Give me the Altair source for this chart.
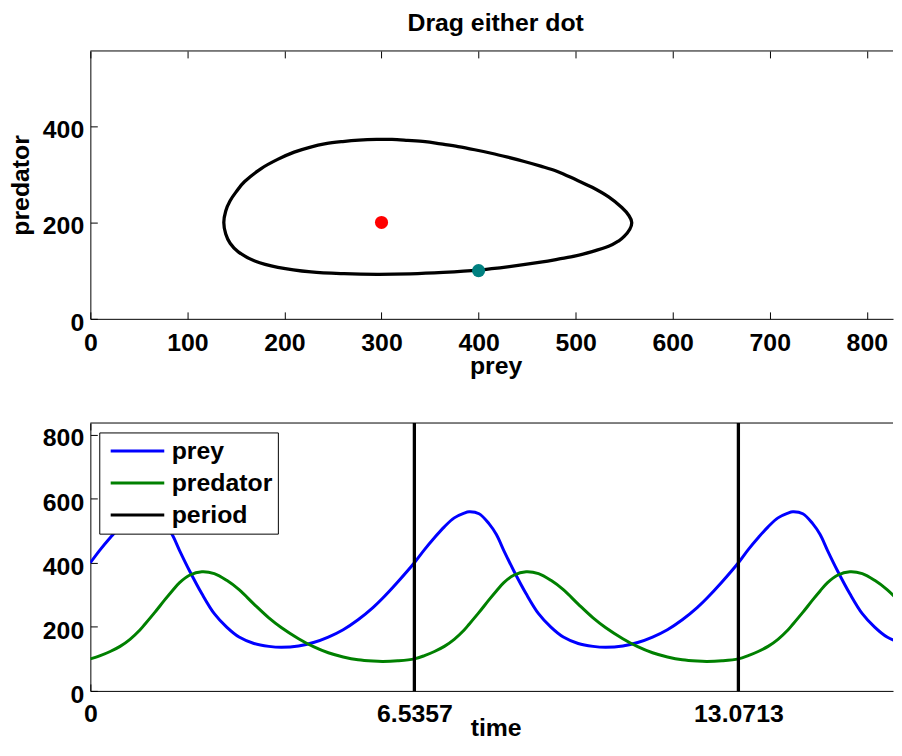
import altair as alt
import pandas as pd

FONT = "Liberation Sans"
W, H = 809, 270

# ---------------- data ----------------
# closed orbit in the phase plane (prey, predator), in path order
orbit_prey = [137.5, 139.5, 144.0, 150.0, 159.0, 176.0, 193.0, 210.0, 226.0, 242.6,
              260.0, 276.7, 295.0, 310.8, 327.0, 344.9, 361.0, 378.9, 396.0, 413.1,
              430.0, 447.1, 464.0, 481.2, 500.0, 517.0, 534.0, 547.6, 555.0, 557.8,
              555.8, 550.0, 544.2, 534.0, 517.0, 500.0, 482.0, 465.8, 431.7, 399.7,
              363.6, 329.5, 295.5, 261.4, 227.3, 193.2, 169.4, 152.4, 144.0, 139.5]
orbit_pred = [200.0, 224.0, 245.0, 263.0, 285.0, 312.0, 331.0, 346.0, 356.0, 363.5,
              368.0, 371.0, 372.5, 372.5, 370.5, 367.8, 363.0, 357.5, 351.0, 343.7,
              335.5, 326.6, 317.0, 306.0, 289.0, 273.0, 253.0, 231.0, 214.0, 200.0,
              186.0, 171.0, 161.5, 150.5, 139.5, 130.5, 124.0, 118.0, 108.5, 101.3,
              96.5, 93.5, 92.5, 93.8, 97.5, 107.0, 120.0, 139.0, 157.0, 176.0]

equilibrium_prey = [300]
equilibrium_pred = [200]
start_prey = [400]
start_pred = [100]

# time series (prey, predator) read along the three visible stretches
time = [0, 0.2, 0.4, 0.6, 0.8, 1.0, 1.1, 1.3, 1.5, 1.65,
        1.8, 2.0, 2.25, 2.5, 2.75, 3.0, 3.3, 3.6, 3.85, 4.2,
        4.5, 4.8, 5.1, 5.4, 5.7, 5.9, 6.2,
        6.5357, 6.74, 6.94, 7.14, 7.34, 7.54, 7.64, 7.84, 8.04, 8.19,
        8.34, 8.54, 8.79, 9.04, 9.29, 9.54, 9.84, 10.14, 10.39, 10.74,
        11.04, 11.34, 11.64, 11.94, 12.24, 12.44, 12.74,
        13.0713, 13.27, 13.47, 13.67, 13.87, 14.07, 14.17, 14.37, 14.57, 14.72,
        14.87, 15.07, 15.32, 15.57, 15.82, 16.07, 16.37]
prey = [400, 441, 478, 512, 540, 555, 559, 553, 522, 488,
        438, 375, 303, 241, 199, 168, 148, 139, 136, 140,
        151, 168, 191, 222, 260, 290, 340,
        400, 441, 478, 512, 540, 555, 559, 553, 522, 488,
        438, 375, 303, 241, 199, 168, 148, 139, 136, 140,
        151, 168, 191, 222, 260, 290, 340,
        400, 441, 478, 512, 540, 555, 559, 553, 522, 488,
        438, 375, 303, 241, 199, 168, 148]
predator = [100, 110, 123, 139, 161, 190, 208, 245, 284, 312,
            338, 361, 372, 366, 345, 316, 271, 228, 198, 163,
            138, 119, 106, 97, 93, 92, 94,
            100, 110, 123, 139, 161, 190, 208, 245, 284, 312,
            338, 361, 372, 366, 345, 316, 271, 228, 198, 163,
            138, 119, 106, 97, 93, 92, 94,
            100, 110, 123, 139, 161, 190, 208, 245, 284, 312,
            338, 361, 372, 366, 345, 316, 271]
period_times = [6.5357, 13.0713]

series_names = ["prey", "predator", "period"]
series_colors = ["#0000ff", "#008000", "#000000"]

prey_ticks = [0, 100, 200, 300, 400, 500, 600, 700, 800]
pred_ticks = [0, 200, 400]
time_ticks = [0, 6.5357, 13.0713]
count_ticks = [0, 200, 400, 600, 800]

prey_domain = [0, 827]
pred_domain = [0, 556]
time_domain = [0, 16.19]
count_domain = [0, 836]

# ---------------- tables ----------------
orbit_df = pd.DataFrame({"i": list(range(len(orbit_prey))), "prey": orbit_prey, "predator": orbit_pred})
eq_df = pd.DataFrame({"prey": equilibrium_prey, "predator": equilibrium_pred})
st_df = pd.DataFrame({"prey": start_prey, "predator": start_pred})
top_edge_df = pd.DataFrame({"predator": [pred_domain[1]]})
ts_df = pd.concat([
    pd.DataFrame({"t": time, "value": prey, "series": "prey"}),
    pd.DataFrame({"t": time, "value": predator, "series": "predator"}),
], ignore_index=True)
period_df = pd.DataFrame({"t": period_times, "series": ["period"] * len(period_times)})
count_edge_df = pd.DataFrame({"value": [count_domain[1]]})


def xgrid(length):
    # MATLAB-style inward ticks on both bottom and top edges
    return dict(grid=True, gridColor="black", gridOpacity=1, gridWidth=1,
                gridDash=[7, length - 14, 7, 4000])


ygrid = dict(grid=True, gridColor="black", gridOpacity=1, gridWidth=1, gridDash=[7, 4000])

# ---------------- top panel ----------------
xs = alt.Scale(domain=prey_domain, nice=False, zero=False)
ys = alt.Scale(domain=pred_domain, nice=False, zero=False)

x_bottom = alt.Axis(values=prey_ticks, title="prey", labelFlush=False, labelOverlap=False,
                    ticks=False, tickSize=0, labelPadding=11.5, titleBaseline="alphabetic",
                    titlePadding=18.5, titleX=W / 2 + 4, **xgrid(H))
y_left = alt.Axis(values=pred_ticks, title="predator", ticks=False, tickSize=0, labelPadding=6.7,
                  labelOffset=3.5, labelOverlap=False, labelFlush=False, titlePadding=9.3, **ygrid)

orbit = alt.Chart(orbit_df).mark_line(color="black", strokeWidth=3.3,
                                      interpolate="cardinal-closed", clip=True).encode(
    x=alt.X("prey:Q", scale=xs, axis=x_bottom),
    y=alt.Y("predator:Q", scale=ys, axis=y_left),
    order=alt.Order("i:Q"),
)
top_edge = alt.Chart(top_edge_df).mark_rule(color="black", strokeWidth=1).encode(
    y=alt.Y("predator:Q", scale=ys, axis=y_left),
)
eq = alt.Chart(eq_df).mark_circle(color="#ff0000", size=175, opacity=1).encode(
    x=alt.X("prey:Q", scale=xs, axis=x_bottom),
    y=alt.Y("predator:Q", scale=ys, axis=y_left),
)
st = alt.Chart(st_df).mark_circle(color="#008080", size=175, opacity=1).encode(
    x=alt.X("prey:Q", scale=xs, axis=x_bottom),
    y=alt.Y("predator:Q", scale=ys, axis=y_left),
)
top = alt.layer(orbit, top_edge, eq, st).properties(
    width=W, height=H,
    title=alt.Title("Drag either dot", font=FONT, fontSize=25, fontWeight="bold", color="black",
                    baseline="alphabetic", offset=-5.3, dx=4, anchor="middle"),
)

# ---------------- bottom panel ----------------
ts_scale = alt.Scale(domain=time_domain, nice=False, zero=False)
cs = alt.Scale(domain=count_domain, nice=False, zero=False)
color_scale = alt.Scale(domain=series_names, range=series_colors)

legend = alt.Legend(title=None, orient="none", legendX=9, legendY=9.5, symbolType="stroke",
                    symbolSize=2916, symbolStrokeWidth=3, clipHeight=27.4, rowPadding=4.3,
                    padding=5, symbolOffset=5, labelOffset=6, labelFontSize=25, labelFont=FONT,
                    labelFontWeight="bold", labelColor="black", fillColor="white",
                    strokeColor="black", labelLimit=400)

t_axis = alt.Axis(values=time_ticks, format=".4~f", title="time", labelFlush=False,
                  labelOverlap=False, ticks=False, tickSize=0, labelPadding=10.5,
                  titleBaseline="alphabetic", titlePadding=9, titleX=W / 2 + 4, **xgrid(H))
c_axis = alt.Axis(values=count_ticks, title=None, ticks=False, tickSize=0, labelPadding=6.7,
                  labelOffset=3.5, labelOverlap=False, labelFlush=False, **ygrid)

lines = alt.Chart(ts_df).mark_line(strokeWidth=3, interpolate="catmull-rom", clip=True).encode(
    x=alt.X("t:Q", scale=ts_scale, axis=t_axis),
    y=alt.Y("value:Q", scale=cs, axis=c_axis),
    color=alt.Color("series:N", scale=color_scale, legend=legend),
)
count_edge = alt.Chart(count_edge_df).mark_rule(color="black", strokeWidth=1).encode(
    y=alt.Y("value:Q", scale=cs, axis=c_axis),
)
rules = alt.Chart(period_df).mark_rule(strokeWidth=3.3).encode(
    x=alt.X("t:Q", scale=ts_scale, axis=t_axis),
    color=alt.Color("series:N", scale=color_scale, legend=legend),
)
bottom = alt.layer(lines, count_edge, rules).properties(width=W, height=H)

chart = alt.vconcat(top, bottom, spacing=105, bounds="flush").resolve_legend(
    color="independent"
).properties(
    padding={"left": 0, "top": -0.6, "right": 0, "bottom": 0}
).configure_view(stroke=None).configure_axis(
    domainColor="black", domainWidth=1,
    labelFont=FONT, labelFontSize=25, labelFontWeight="bold", labelColor="black",
    titleFont=FONT, titleFontSize=25, titleFontWeight="bold", titleColor="black",
)

chart.save("out.html", embed_options={"renderer": "svg", "actions": False})
